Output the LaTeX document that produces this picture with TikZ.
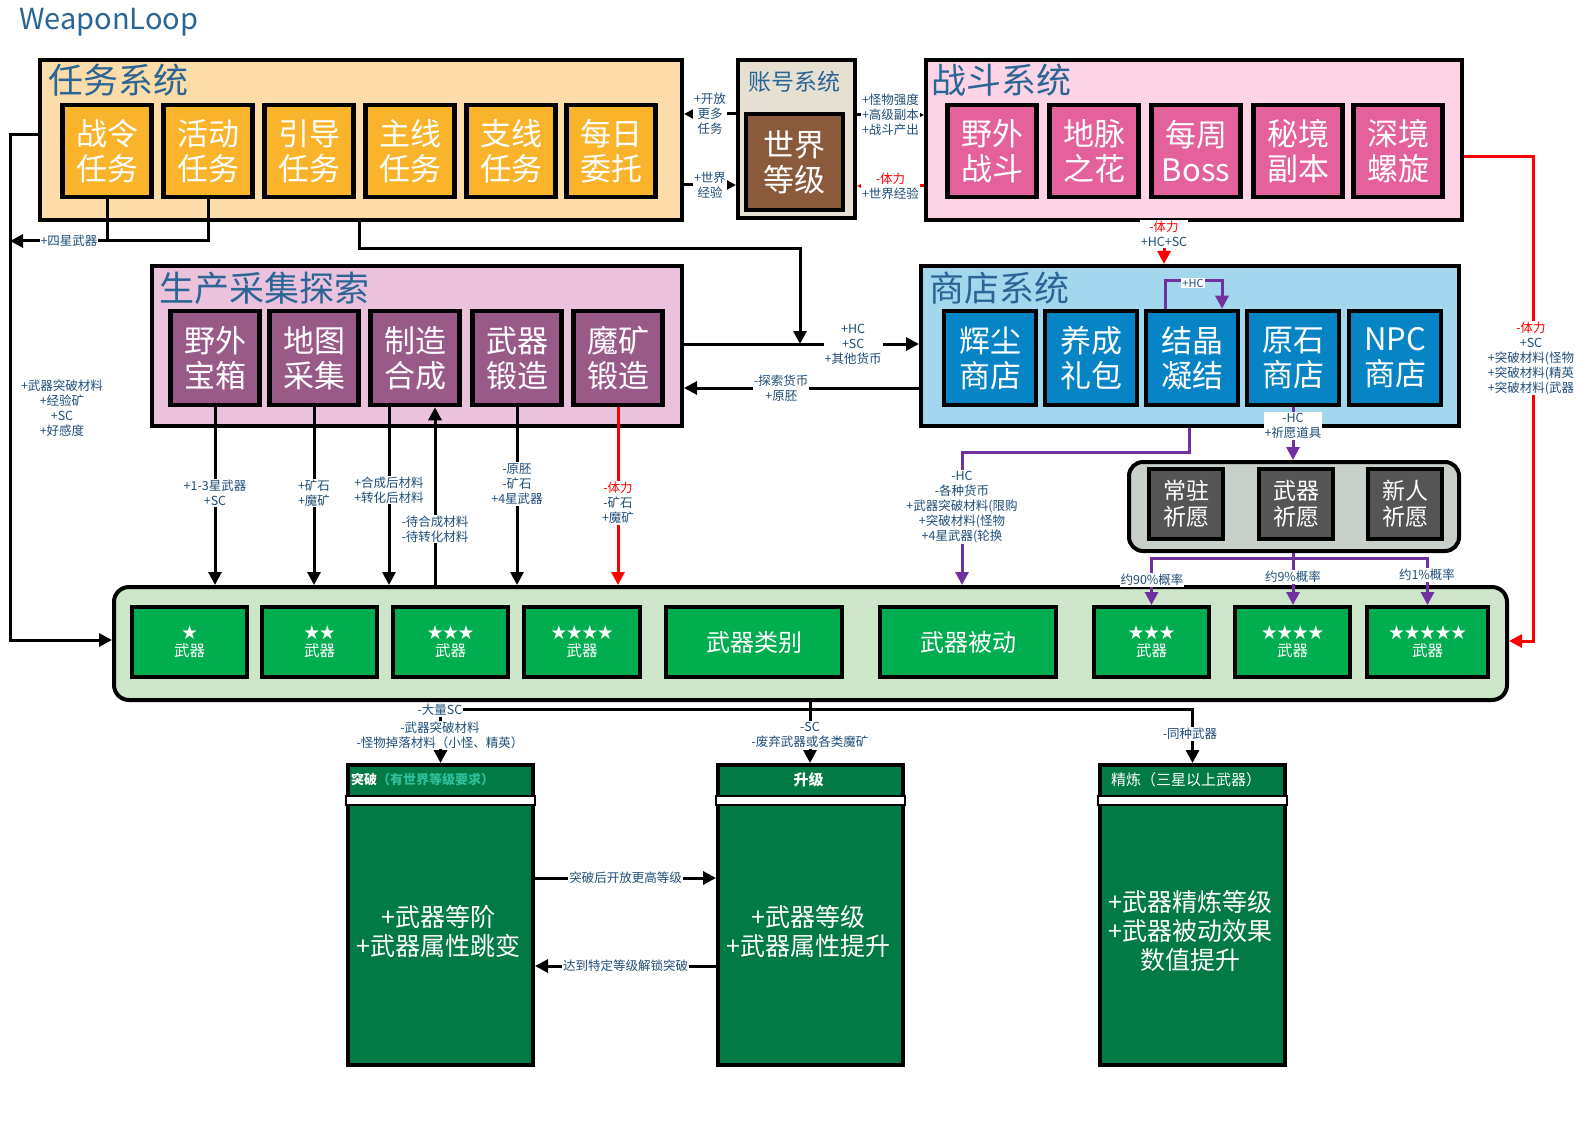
\documentclass[tikz,border=0pt]{standalone}
\usepackage{fontspec}
\usepackage{xcolor}
\usepackage{tikz}
\usetikzlibrary{arrows.meta, positioning}
\setmainfont{Noto Sans CJK SC}

\definecolor{titleblue}{HTML}{2B6595}
\definecolor{labelblue}{HTML}{1F4E79}
\definecolor{missionbg}{HTML}{FCDCA8}
\definecolor{taskfill}{HTML}{F9B42B}
\definecolor{acctbg}{HTML}{E5E0D2}
\definecolor{worldfill}{HTML}{8B5A3B}
\definecolor{combatbg}{HTML}{FDD4E5}
\definecolor{combatfill}{HTML}{E4619C}
\definecolor{prodbg}{HTML}{EAC2DC}
\definecolor{prodfill}{HTML}{9A5A88}
\definecolor{shopbg}{HTML}{A3D7EE}
\definecolor{shopfill}{HTML}{0684C6}
\definecolor{wishbg}{HTML}{C9D0C9}
\definecolor{wishfill}{HTML}{555555}
\definecolor{rowbg}{HTML}{CDE6CA}
\definecolor{weaponfill}{HTML}{00AE4F}
\definecolor{upfill}{HTML}{017A45}
\definecolor{reqteal}{HTML}{2FBF9A}
\definecolor{wishpurple}{HTML}{7030A0}
\definecolor{costred}{HTML}{FF0000}

\begin{document}
\begin{tikzpicture}[
  x=1pt, y=-1pt,
  sysbox/.style={draw, line width=4pt, anchor=north west, inner sep=0pt},
  systitle/.style={anchor=west, inner sep=0pt, text=titleblue, font=\fontsize{35}{38}\selectfont},
  unitbox/.style={draw, line width=4.5pt, align=center, inner sep=0pt, text=white,
    minimum width=89pt, minimum height=92pt, font=\fontsize{31}{35}\selectfont},
  wishbox/.style={draw, line width=4pt, fill=wishfill, text=white, align=center, inner sep=0pt,
    minimum width=74pt, minimum height=70pt, font=\fontsize{23}{26}\selectfont},
  weaponbox/.style={draw, line width=4pt, fill=weaponfill, text=white, align=center, inner sep=0pt,
    minimum width=115pt, minimum height=70pt, font=\fontsize{15.5}{18}\selectfont},
  upbox/.style={draw, line width=4pt, fill=upfill, anchor=north west, inner sep=0pt,
    minimum width=185pt, minimum height=300pt},
  uptext/.style={text=white, align=center, font=\fontsize{25}{29}\selectfont},
  lbl/.style={fill=white, inner sep=1pt, align=center, text=labelblue, font=\fontsize{12.5}{15}\selectfont},
  wire/.style={line width=3pt},
  conn/.style={wire, -{Triangle[length=13pt,width=13pt]}},
  plink/.style={wire, wishpurple},
  pconn/.style={conn, wishpurple},
  rconn/.style={conn, costred}
]
\fill[white] (0,0) rectangle (1587,1123);
\useasboundingbox (0,0) rectangle (1587,1123);

\node[anchor=west, inner sep=0pt, text=titleblue, font=\fontsize{29}{31}\selectfont] (title) at (19,22) {WeaponLoop};

% mission system
\node[sysbox, fill=missionbg, minimum width=642pt, minimum height=160pt] (mission) at (38,58) {};
\node[systitle] (missiontitle) at (48,80) {任务系统};
\node[unitbox, fill=taskfill] (zl) at (107,151) {战令\\任务};
\node[unitbox, fill=taskfill] (hd) at (208,151) {活动\\任务};
\node[unitbox, fill=taskfill] (yd) at (309,151) {引导\\任务};
\node[unitbox, fill=taskfill] (zx) at (410,151) {主线\\任务};
\node[unitbox, fill=taskfill] (zhx) at (511,151) {支线\\任务};
\node[unitbox, fill=taskfill] (mr) at (611,151) {每日\\委托};

% account system
\node[sysbox, fill=acctbg, minimum width=117pt, minimum height=158pt] (acct) at (736,58) {};
\node[inner sep=0pt, text=titleblue, font=\fontsize{23}{25}\selectfont] (accttitle) at (794.5,82) {账号系统};
\node[draw, line width=4pt, fill=worldfill, text=white, align=center, inner sep=0pt,
  minimum width=97pt, minimum height=96pt, font=\fontsize{31}{35}\selectfont] (world) at (794.5,162) {世界\\等级};

% combat system
\node[sysbox, fill=combatbg, minimum width=536pt, minimum height=160pt] (combat) at (924,58) {};
\node[systitle] (combattitle) at (931,80) {战斗系统};
\node[unitbox, fill=combatfill] (ywzd) at (992,151) {野外\\战斗};
\node[unitbox, fill=combatfill] (dm) at (1094,151) {地脉\\之花};
\node[unitbox, fill=combatfill] (mz) at (1196,151) {每周\\Boss};
\node[unitbox, fill=combatfill] (mj) at (1298,151) {秘境\\副本};
\node[unitbox, fill=combatfill] (sj) at (1398,151) {深境\\螺旋};

% production
\node[sysbox, fill=prodbg, minimum width=530pt, minimum height=160pt] (prod) at (150,264) {};
\node[systitle] (prodtitle) at (159,288) {生产采集探索};
\node[unitbox, fill=prodfill, minimum height=94pt] (bx) at (215,358) {野外\\宝箱};
\node[unitbox, fill=prodfill, minimum height=94pt] (cj) at (314,358) {地图\\采集};
\node[unitbox, fill=prodfill, minimum height=94pt] (zz) at (415,358) {制造\\合成};
\node[unitbox, fill=prodfill, minimum height=94pt] (dz) at (517,358) {武器\\锻造};
\node[unitbox, fill=prodfill, minimum height=94pt] (mk) at (618,358) {魔矿\\锻造};

% shop system
\node[sysbox, fill=shopbg, minimum width=538pt, minimum height=160pt] (shop) at (919,264) {};
\node[systitle] (shoptitle) at (929,288) {商店系统};
\node[unitbox, fill=shopfill, minimum width=92pt, minimum height=94pt] (hc) at (990,358) {辉尘\\商店};
\node[unitbox, fill=shopfill, minimum width=92pt, minimum height=94pt] (yc) at (1091,358) {养成\\礼包};
\node[unitbox, fill=shopfill, minimum width=92pt, minimum height=94pt] (jj) at (1192,358) {结晶\\凝结};
\node[unitbox, fill=shopfill, minimum width=92pt, minimum height=94pt] (ys) at (1293,358) {原石\\商店};
\node[unitbox, fill=shopfill, minimum width=92pt, minimum height=94pt] (npc) at (1395,358) {NPC\\商店};

% wishes
\node[sysbox, fill=wishbg, rounded corners=14pt, minimum width=330pt, minimum height=89pt] (wish) at (1127,460) {};
\node[wishbox] (czq) at (1186,504) {常驻\\祈愿};
\node[wishbox] (wqq) at (1296,504) {武器\\祈愿};
\node[wishbox] (xrq) at (1405,504) {新人\\祈愿};

% weapon row
\node[sysbox, fill=rowbg, rounded corners=15pt, minimum width=1393pt, minimum height=113pt] (row) at (112,585) {};
\node[weaponbox] (w1) at (189.5,642) {★\\武器};
\node[weaponbox] (w2) at (319.5,642) {★★\\武器};
\node[weaponbox] (w3) at (450.5,642) {★★★\\武器};
\node[weaponbox, minimum width=116pt] (w4) at (582,642) {★★★★\\武器};
\node[weaponbox, minimum width=176pt, font=\fontsize{24}{28}\selectfont] (wtype) at (754,642) {武器类别};
\node[weaponbox, minimum width=176pt, font=\fontsize{24}{28}\selectfont] (wpass) at (968,642) {武器被动};
\node[weaponbox] (g3) at (1151.5,642) {★★★\\武器};
\node[weaponbox] (g4) at (1292.5,642) {★★★★\\武器};
\node[weaponbox, minimum width=121pt] (g5) at (1427.5,642) {★★★★★\\武器};

% upgrade boxes
\node[upbox] (brk) at (346,763) {};
\node[upbox] (upg) at (716,763) {};
\node[upbox] (ref) at (1098,763) {};
\draw[line width=2.5pt, fill=white] (brk.west |- 0,796) rectangle (brk.east |- 0,805);
\draw[line width=2.5pt, fill=white] (upg.west |- 0,796) rectangle (upg.east |- 0,805);
\draw[line width=2.5pt, fill=white] (ref.west |- 0,796) rectangle (ref.east |- 0,805);
\node[anchor=west, inner sep=0pt, text=white, font=\bfseries\fontsize{13}{15}\selectfont] (brkhead) at (351,780) {突破\textcolor{reqteal}{（有世界等级要求）}};
\node[inner sep=0pt, text=white, font=\bfseries\fontsize{15}{17}\selectfont] (upghead) at (808.5,780) {升级};
\node[inner sep=0pt, text=white, font=\fontsize{15}{17}\selectfont] (refhead) at (1186,780) {精炼（三星以上武器）};
\node[uptext] (brkbody) at (438.5,931) {+武器等阶\\+武器属性跳变};
\node[uptext] (upgbody) at (808.5,931) {+武器等级\\+武器属性提升};
\node[uptext] (refbody) at (1190.5,931) {+武器精炼等级\\+武器被动效果\\数值提升};

% account links
\draw[conn] (acct.west |- 0,114) -- node[lbl] (lmore) {+开放\\更多\\任务} (mission.east |- 0,114);
\draw[conn] (mission.east |- 0,185) -- node[lbl] (lwexp) {+世界\\经验} (acct.west |- 0,185);
\draw[conn] (acct.east |- 0,115) -- node[lbl] (lmon) {+怪物强度\\+高级副本\\+战斗产出} (combat.west |- 0,115);
\draw[rconn] (combat.west |- 0,186) -- node[lbl] (lstam) {\textcolor{costred}{-体力}\\+世界经验} (acct.east |- 0,186);

% left loop
\coordinate (lturn) at (10,135);
\coordinate (lbot) at (10,640);
\draw[conn] (mission.west |- lturn) -- (lturn) -- (lbot) -- (row.west |- lbot);
\node[text=labelblue, align=center, font=\fontsize{12.5}{15}\selectfont] (lmat) at (62,408) {+武器突破材料\\+经验矿\\+SC\\+好感度};
\draw[wire] (hd.south) |- (zl.south |- 0,241);
\draw[conn] (zl.south) |- (lturn |- 0,241);
\node[lbl] (l4star) at (69,241) {+四星武器};

% mission to shop line
\coordinate (mq1) at (359,249);
\coordinate (mq2) at (800,249);
\draw[conn] (mission.south -| mq1) -- (mq1) -- (mq2) -- (mq2 |- 0,344);

% production and shop
\draw[conn] (prod.east |- 0,344) -- node[lbl, pos=0.72] (lcur) {+HC\\+SC\\+其他货币} (shop.west |- 0,344);
\draw[conn] (shop.west |- 0,388) -- node[lbl, pos=0.586] (lexp) {-探索货币\\+原胚} (prod.east |- 0,388);
\draw[rconn] (combat.south -| 1164,0) -- (shop.north -| 1164,0);
\node[lbl] (lhcsc) at (1164,234) {\textcolor{costred}{-体力}\\+HC+SC};
\draw[pconn] ([xshift=-27pt]jj.north) -- ++(0,-28) -| ([xshift=30pt]jj.north);
\node[lbl, font=\fontsize{11}{13}\selectfont] (lhc) at (1193,283) {+HC};
\draw[pconn] (ys.south) -- (wish.north -| ys.south);
\node[lbl] (lwishitem) at (1293,426) {-HC\\+祈愿道具};
\coordinate (sp1) at (1189,452);
\coordinate (sp2) at (962,452);
\draw[pconn] (shop.south -| sp1) -- (sp1) -- (sp2) -- (row.north -| sp2);
\node[lbl] (lshopbuy) at (962,507) {-HC\\-各种货币\\+武器突破材料(限购\\+突破材料(怪物\\+4星武器(轮换};

% wishes to weapons
\coordinate (wsplit) at (1293,558);
\draw[plink] (wish.south -| wsplit) -- (wsplit);
\draw[pconn] (wsplit) -| (g3.north);
\draw[pconn] (wsplit) -- (wsplit |- g4.north);
\draw[pconn] (wsplit) -| (g5.north);
\node[lbl] (lp90) at (1152,580) {约90\%概率};
\node[lbl] (lp9) at (1293,577) {约9\%概率};
\node[lbl] (lp1) at (1427,575) {约1\%概率};

% production to weapons
\draw[conn] (bx.south) -- (row.north -| bx.south);
\node[lbl] (lbx) at (215,493) {+1-3星武器\\+SC};
\draw[conn] (cj.south) -- (row.north -| cj.south);
\node[lbl] (lcj) at (314,493) {+矿石\\+魔矿};
\draw[conn] ([xshift=-26pt]zz.south) -- ([xshift=-26pt]zz.south |- row.north);
\node[lbl] (lzzout) at (389,490) {+合成后材料\\+转化后材料};
\draw[conn] ([xshift=20pt]zz.south |- row.north) -- ([xshift=20pt]zz.south);
\node[lbl] (lzzin) at (435,529) {-待合成材料\\-待转化材料};
\draw[conn] (dz.south) -- (row.north -| dz.south);
\node[lbl] (ldz) at (517,484) {-原胚\\-矿石\\+4星武器};
\draw[rconn] (mk.south) -- (row.north -| mk.south);
\node[lbl] (lmk) at (618,503) {\textcolor{costred}{-体力}\\-矿石\\+魔矿};

% combat to weapons
\coordinate (rtop) at (1533,157);
\coordinate (rbot) at (1533,641);
\draw[rconn] (combat.east |- rtop) -- (rtop) -- (rbot) -- (row.east |- rbot);
\node[lbl] (ldrop) at (1531,358) {\textcolor{costred}{-体力}\\+SC\\+突破材料(怪物\\+突破材料(精英\\+突破材料(武器};

% weapons to upgrades
\coordinate (bsplit) at (810,709);
\draw[wire] (row.south -| bsplit) -- (bsplit);
\draw[conn] (bsplit) -| (brk.north);
\draw[conn] (bsplit) -- (bsplit |- upg.north);
\draw[conn] (bsplit) -| (ref.north);
\node[lbl] (lbrksc) at (440,710) {-大量SC};
\node[lbl] (lbrkcost) at (440,735) {-武器突破材料\\-怪物掉落材料（小怪、精英）};
\node[lbl] (lupgcost) at (810,735) {-SC\\-废弃武器或各类魔矿};
\node[lbl] (lrefcost) at (1190,734) {-同种武器};

\draw[conn] (brk.east |- 0,878) -- node[lbl] (lopen) {突破后开放更高等级} (upg.west |- 0,878);
\draw[conn] (upg.west |- 0,966) -- node[lbl] (lunlock) {达到特定等级解锁突破} (brk.east |- 0,966);
\end{tikzpicture}
\end{document}
